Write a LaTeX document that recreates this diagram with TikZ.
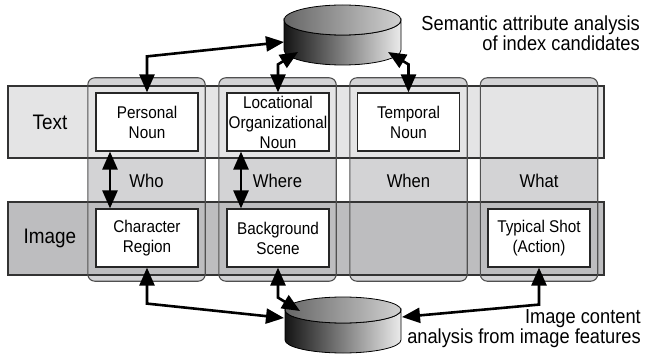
\documentclass[tikz,border=0pt]{standalone}
\usepackage{fontspec}
\setmainfont[FakeStretch=0.9]{Liberation Sans}
\usetikzlibrary{arrows.meta}

\definecolor{bandlight}{HTML}{E4E4E5}
\definecolor{banddark}{HTML}{BDBDBF}
\definecolor{colgray}{HTML}{D3D3D5}
\definecolor{edgegray}{HTML}{505050}

\begin{document}
\begin{tikzpicture}[x=1pt,y=-1pt,
  colbox/.style={rectangle, rounded corners=7pt, fill=colgray, inner sep=0pt,
    minimum width=117pt, minimum height=203pt},
  colline/.style={draw=edgegray, line width=1.1pt, rounded corners=7pt},
  band/.style={rectangle, draw=black!80, line width=1.1pt, inner sep=0pt,
    minimum width=596pt},
  itembox/.style={rectangle, draw=black!85, line width=1.2pt, fill=white,
    inner sep=0pt, minimum width=102pt, minimum height=58pt, align=center,
    font=\fontsize{17}{20}\selectfont},
  rowlabel/.style={font=\fontsize{21}{22}\selectfont, inner sep=0pt},
  wlabel/.style={font=\fontsize{18.5}{20}\selectfont, inner sep=0pt},
  note/.style={font=\fontsize{20.3}{20}\selectfont, inner sep=0pt, anchor=base east},
  tip/.tip={Triangle[length=18pt,width=15pt]},
  link/.style={line width=2.6pt, tip-tip},
  disk/.style={draw=black, line width=0.8pt},
  hold/.style={rectangle, inner sep=0pt, minimum width=117pt, minimum height=60pt}
]
\useasboundingbox (0,0) rectangle (645,358);

% four attribute columns (fill only, outlines come later)
\node[colbox] (c1) at (146.5,179.5) {};
\node[colbox] (c2) at (277.5,179.5) {};
\node[colbox] (c3) at (408.5,179.5) {};
\node[colbox] (c4) at (539,179.5) {};

% the two media rows
\node[band, fill=bandlight, minimum height=72pt] (tb) at (306,122) {};
\node[band, fill=banddark, minimum height=73pt] (ib) at (306,238.5) {};

% column outlines on top of the rows
\foreach \c in {c1,c2,c3,c4}
  \draw[colline] (\c.north west) rectangle (\c.south east);

% row labels
\node[rowlabel] (ltext) at (50,122) {Text};
\node[rowlabel] (limage) at (50,238) {Image};

% question labels
\node[wlabel] (who) at (146.5,181) {Who};
\node[wlabel] (where) at (277.5,181) {Where};
\node[wlabel] (when) at (408.5,181) {When};
\node[wlabel] (what) at (539,181) {What};

% index candidates
\node[itembox] (pn) at (147,122) {Personal\\Noun};
\node[itembox] (loc) at (278,122) {Locational\\Organizational\\Noun};
\node[itembox] (tmp) at (408.5,122) {Temporal\\Noun};
\node[itembox] (chr) at (147,238) {Character\\Region};
\node[itembox] (bg) at (278,238) {Background\\Scene};
\node[itembox] (typ) at (539,238) {Typical Shot\\(Action)};

% semantic analysis disk
\node[hold] (sem) at (342.5,35) {};
\shade[disk, left color=black!92, right color=black!8]
  (284,20) -- (284,50) arc[start angle=180, end angle=0, x radius=58.5, y radius=15]
  -- (401,20) arc[start angle=0, end angle=180, x radius=58.5, y radius=15] -- cycle;
\shade[disk, left color=black!60, right color=black!18]
  (342.5,20) ellipse[x radius=58.5, y radius=15];

% image analysis disk
\node[hold] (img) at (343,325) {};
\shade[disk, left color=black!92, right color=black!8]
  (285,310) -- (285,340) arc[start angle=180, end angle=0, x radius=58, y radius=13]
  -- (401,310) arc[start angle=0, end angle=180, x radius=58, y radius=13] -- cycle;
\shade[disk, left color=black!60, right color=black!18]
  (343,310) ellipse[x radius=58, y radius=13];

% disk descriptions
\node[note] (s1) at (640,31) {Semantic attribute analysis};
\node[note] (s2) at (640,51) {of index candidates};
\node[note] (i1) at (641,323) {Image content};
\node[note] (i2) at (641,343) {analysis from image features};

% contact points on the disks
\coordinate (semA) at (284,42);
\coordinate (semB) at (298,52);
\coordinate (semC) at (388,52);
\coordinate (imgA) at (284,318);
\coordinate (imgB) at (300,311);
\coordinate (imgC) at (402,317);

% vertical guides for the text-image correspondences
\coordinate (gw) at (110,0);
\coordinate (gl) at (241,0);

% links between candidates and analyses
\draw[link] (pn.north) -- ++(0,-36) -- (semA);
\draw[link] (loc.north) -- ++(0,-28) -- (semB);
\draw[link] (tmp.north) -- ++(0,-28) -- (semC);
\draw[link] (chr.south) -- ++(0,36) -- (imgA);
\draw[link] (bg.south) -- ++(0,30) -- (imgB);
\draw[link] (typ.south) -- ++(0,37) -- (imgC);

% text-image correspondences
\draw[link] (pn.south -| gw) -- (chr.north -| gw);
\draw[link] (loc.south -| gl) -- (bg.north -| gl);
\end{tikzpicture}
\end{document}
